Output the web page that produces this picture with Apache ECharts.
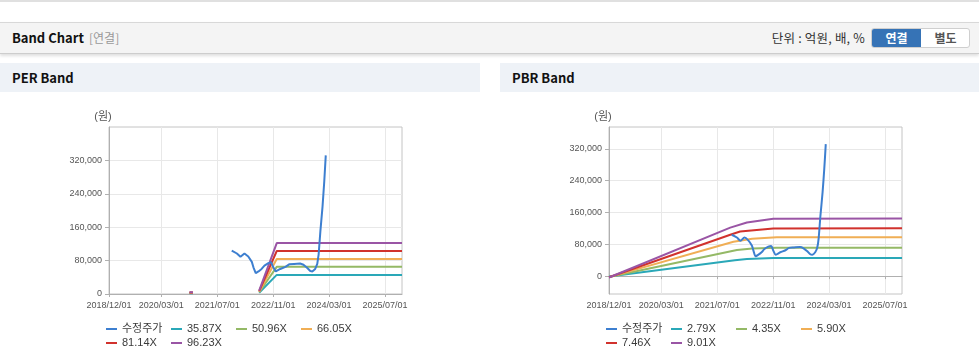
<!DOCTYPE html>
<html>
<head>
<meta charset="utf-8">
<script src="https://cdn.jsdelivr.net/npm/echarts@6/dist/echarts.min.js"></script>
<style>
html,body{margin:0;padding:0;background:#fff;}
body{width:979px;height:361px;position:relative;overflow:hidden;font-family:'Noto Sans CJK KR','Liberation Sans',sans-serif;}
.topline{position:absolute;left:0;top:0;width:979px;height:2px;background:#e0e0e0;}
.hdr{position:absolute;left:0;top:22px;width:979px;height:30px;background:#f4f4f4;border-top:1px solid #d8d8d8;border-bottom:1px solid #cdcdcd;box-shadow:0 2px 3px rgba(0,0,0,0.13);}
.hdr .t{position:absolute;left:12px;top:0;line-height:30px;font-size:13px;font-weight:bold;color:#111;}
.hdr .s{position:absolute;left:89px;top:0;line-height:30px;font-size:12px;color:#999;}
.hdr .u{position:absolute;right:114px;top:0;line-height:30px;font-size:12.5px;color:#333;letter-spacing:0.2px;}
.btns{position:absolute;left:871px;top:5px;width:97px;height:18px;border:1px solid #cfcfcf;border-radius:3px;background:#fff;overflow:hidden;}
.btn{position:absolute;top:0;height:18px;line-height:18px;width:49px;text-align:center;font-size:12px;font-weight:bold;}
.b1{left:0;background:#3673b6;color:#fff;}
.b2{left:49px;color:#555;}
.pt{position:absolute;top:63px;height:29px;background:#eef2f7;}
.pt span{position:absolute;left:12px;top:0;line-height:29px;font-size:13px;font-weight:bold;color:#111;}
#chart{position:absolute;left:0;top:0;width:979px;height:361px;}
</style>
</head>
<body>
<div class="topline"></div>
<div class="hdr">
  <div class="t">Band Chart</div>
  <div class="s">[연결]</div>
  <div class="u">단위 : 억원, 배, %</div>
  <div class="btns"><div class="btn b1">연결</div><div class="btn b2">별도</div></div>
</div>
<div class="pt" style="left:0;width:480px;"><span>PER Band</span></div>
<div class="pt" style="left:500px;width:479px;"><span>PBR Band</span></div>
<div id="chart"></div>
<script>
// ---------- data ----------
var xTickLabels = ['2018/12/01','2020/03/01','2021/07/01','2022/11/01','2024/03/01','2025/07/01'];
var xMin = '2018/12/01';
var xMax = '2025/11/26';
var yTicks = [0, 80000, 160000, 240000, 320000];

var perNames = ['수정주가','35.87X','50.96X','66.05X','81.14X','96.23X'];
var pbrNames = ['수정주가','2.79X','4.35X','5.90X','7.46X','9.01X'];
var colors = ['#3d7fd0','#2aa8b8','#94b966','#f0ae55','#d1322d','#9a55a5'];

var price = [
  ['2021/11/04',104000],['2021/12/19',97000],['2022/01/19',89000],['2022/02/23',97000],
  ['2022/03/28',90000],['2022/04/28',77000],['2022/05/12',64000],['2022/06/01',50000],
  ['2022/06/25',54000],['2022/07/22',60000],['2022/08/16',68000],['2022/09/19',74000],
  ['2022/10/13',76000],['2022/11/01',64000],['2022/11/22',54000],['2023/01/01',60000],
  ['2023/02/15',65000],['2023/03/19',71000],['2023/05/01',72000],['2023/06/22',73000],
  ['2023/07/22',70000],['2023/08/22',63000],['2023/09/19',55000],['2023/10/07',54000],
  ['2023/11/01',60000],['2023/11/19',72000],['2023/12/01',95000],['2023/12/16',150000],
  ['2024/01/04',210000],['2024/01/19',270000],['2024/02/01',332000]
];

var per1 = [['2020/11/01',1500],['2020/12/01',1500],['2021/01/01',null],['2022/07/01',3000],['2022/12/01',45700],['2025/11/26',45700]];
var per2 = [['2020/11/01',2100],['2020/12/01',2100],['2021/01/01',null],['2022/07/01',4300],['2022/12/01',65000],['2025/11/26',65000]];
var per3 = [['2020/11/01',2800],['2020/12/01',2800],['2021/01/01',null],['2022/07/01',5500],['2022/12/01',84000],['2025/11/26',84000]];
var per4 = [['2020/11/01',3400],['2020/12/01',3400],['2021/01/01',null],['2022/07/01',7000],['2022/12/01',103000],['2025/11/26',103000]];
var per5 = [['2020/11/01',4000],['2020/12/01',4000],['2021/01/01',null],['2022/07/01',8000],['2022/12/01',122000],['2025/11/26',122000]];

var pbr1 = [['2018/12/01',-1200],['2021/12/01',40000],['2022/03/16',43000],['2022/11/01',45500],['2025/11/26',45500]];
var pbr2 = [['2018/12/01',-2000],['2021/12/19',65500],['2022/05/01',69500],['2022/12/01',71500],['2025/11/26',71500]];
var pbr3 = [['2018/12/01',-2500],['2021/11/19',86500],['2022/05/01',94000],['2022/12/01',97500],['2025/11/26',97500]];
var pbr4 = [['2018/12/01',-3000],['2021/10/22',104000],['2022/01/16',112000],['2022/11/01',120000],['2025/11/26',120500]];
var pbr5 = [['2018/12/01',-3500],['2021/10/22',122000],['2022/03/16',135000],['2022/11/01',144000],['2025/11/26',145000]];

// ---------- chart ----------
function toTime(s){ return new Date(s).getTime(); }
function pad(n){ return (n < 10 ? '0' : '') + n; }
function fmtDate(v){ var d = new Date(v); return d.getFullYear() + '/' + pad(d.getMonth() + 1) + '/' + pad(d.getDate()); }
function conv(arr){ return arr.map(function(p){ return [toTime(p[0]), p[1] === null ? '-' : p[1]]; }); }
var xCustom = xTickLabels.map(toTime);
var font = "'Liberation Sans','Noto Sans CJK KR',sans-serif";

function xAxisCfg(gi){
  return {
    type: 'value', gridIndex: gi, min: toTime(xMin), max: toTime(xMax),
    axisLine: {show: true, lineStyle: {color: '#b0b0b0', width: 1}},
    axisTick: {show: true, length: 3, customValues: xCustom, lineStyle: {color: '#b0b0b0'}},
    axisLabel: {customValues: xCustom, formatter: fmtDate, color: '#555', fontSize: 9, fontFamily: font, margin: 7, hideOverlap: false},
    splitLine: {show: true, lineStyle: {color: '#e8e8e8', width: 1}}
  };
}
function yAxisCfg(gi, mn, mx){
  return {
    type: 'value', gridIndex: gi, min: mn, max: mx,
    name: '(원)', nameLocation: 'end', nameGap: 5,
    nameTextStyle: {color: '#555', fontSize: 11, fontFamily: font, align: 'center', verticalAlign: 'bottom', padding: [0, 12, 0, 0]},
    axisLine: {show: true, lineStyle: {color: '#b0b0b0', width: 1}},
    axisTick: {show: true, length: 4, customValues: yTicks, lineStyle: {color: '#b0b0b0'}},
    axisLabel: {customValues: yTicks, color: '#555', fontSize: 9, fontFamily: font, margin: 7,
      formatter: function(v){ return Number(v).toLocaleString('en-US'); }},
    splitLine: {show: true, lineStyle: {color: '#e8e8e8', width: 1}}
  };
}
function mkSeries(names, datas, gi, smooth){
  return names.map(function(n, i){
    return {
      name: n, type: 'line', xAxisIndex: gi, yAxisIndex: gi, data: conv(datas[i]),
      showSymbol: false, symbol: 'none', smooth: (i === 0 ? smooth : false),
      connectNulls: false, z: (i === 0 ? 3 : 2),
      lineStyle: {color: colors[i], width: 2}, itemStyle: {color: colors[i]},
      animation: false
    };
  });
}
function legendCfg(names, left, top){
  return {
    data: names, left: left, top: top, orient: 'horizontal', icon: 'rect',
    itemWidth: 11, itemHeight: 2, itemGap: 5, padding: 0,
    textStyle: {color: '#3a3a3a', fontSize: 11, fontFamily: font, width: 44, lineHeight: 14}
  };
}

var chart = echarts.init(document.getElementById('chart'), null, {renderer: 'canvas'});
chart.setOption({
  animation: false,
  color: colors,
  grid: [
    {left: 109, top: 127, width: 293, height: 167, show: true, borderColor: '#c4c4c4', borderWidth: 1, backgroundColor: 'transparent'},
    {left: 609, top: 127, width: 293, height: 167, show: true, borderColor: '#c4c4c4', borderWidth: 1, backgroundColor: 'transparent'}
  ],
  xAxis: [xAxisCfg(0), xAxisCfg(1)],
  yAxis: [yAxisCfg(0, 0, 400000), yAxisCfg(1, -45000, 375000)],
  legend: [
    legendCfg(perNames.slice(0, 4), 106, 322),
    legendCfg(perNames.slice(4), 106, 336),
    legendCfg(pbrNames.slice(0, 4), 606, 322),
    legendCfg(pbrNames.slice(4), 606, 336)
  ],
  series: mkSeries(perNames, [price, per1, per2, per3, per4, per5], 0, false)
    .concat(mkSeries(pbrNames, [price, pbr1, pbr2, pbr3, pbr4, pbr5], 1, 0.3))
});
</script>
</body>
</html>
